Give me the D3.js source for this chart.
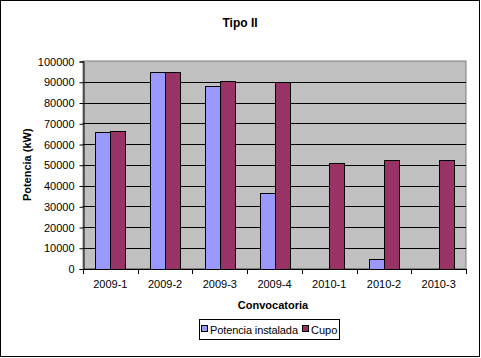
<!DOCTYPE html>
<html><head><meta charset="utf-8">
<script src="https://cdn.jsdelivr.net/npm/d3@7"></script>
<style>body{margin:0;background:#fff}svg{display:block;font-family:Arial,"Liberation Sans",sans-serif}</style>
</head><body>
<svg id="c" width="481" height="358"></svg>
<script>
const categories = ["2009-1","2009-2","2009-3","2009-4","2010-1","2010-2","2010-3"];
const potenciaInstalada = [65700, 94600, 87800, 36600, 0, 4500, 0];
const cupo = [66200, 94600, 90200, 89800, 50700, 52200, 52200];
const seriesNames = ["Potencia instalada", "Cupo"];
const yTicks = [0,10000,20000,30000,40000,50000,60000,70000,80000,90000,100000];

const colors = ["#9999FF", "#993366"];
const svg = d3.select("#c");
const L = 83, R = 466, T = 61, B = 268.5;

svg.append("rect").attr("x",0.5).attr("y",0.5).attr("width",479).attr("height",356)
  .attr("fill","#fff").attr("stroke","#000");

const x = d3.scaleBand().domain(categories).range([L,R]);
const y = d3.scaleLinear().domain([0,100000]).range([B,T]);

svg.append("rect").attr("x",L).attr("y",T).attr("width",R-L).attr("height",B-T)
  .attr("fill","#C0C0C0").attr("stroke","#808080");

svg.append("g").selectAll("line").data(yTicks.slice(1,-1)).join("line")
  .attr("x1",L).attr("x2",R).attr("y1",d=>Math.round(y(d))+0.5).attr("y2",d=>Math.round(y(d))+0.5)
  .attr("stroke","#000");

const bw = 15, gap = (x.bandwidth() - 2*bw)/2;
const g = svg.append("g");
categories.forEach((c,i)=>{
  [potenciaInstalada[i], cupo[i]].forEach((v,j)=>{
    if (v<=0) return;
    const x0 = Math.round(x(c)+gap+j*bw)+0.5;
    g.append("rect").attr("x",x0).attr("y",Math.round(y(v))+0.5)
      .attr("width",bw).attr("height",Math.round(B)-Math.round(y(v)))
      .attr("fill",colors[j]).attr("stroke","#000");
  });
});

const yAxis = d3.axisLeft(y).tickValues(yTicks).tickSize(4).tickPadding(5).tickFormat(d3.format("d"));
const ya = svg.append("g").attr("transform",`translate(${L+0.5},0.5)`).call(yAxis);
const xAxis = d3.axisBottom(x).tickSize(0).tickPadding(11);
const xa = svg.append("g").attr("transform",`translate(0,${Math.round(B)+0.5})`).call(xAxis);
[ya,xa].forEach(a=>{a.selectAll("path,line").attr("stroke","#000");a.selectAll("text").attr("font-size",11).attr("font-family","Arial,'Liberation Sans',sans-serif").attr("fill","#000");});
xa.select(".domain").attr("d",`M${L},0H${R}`);
svg.append("g").selectAll("line").data(d3.range(categories.length+1)).join("line")
  .attr("x1",i=>Math.round(L+i*x.step())+0.5).attr("x2",i=>Math.round(L+i*x.step())+0.5)
  .attr("y1",Math.round(B)).attr("y2",Math.round(B)+5).attr("stroke","#000");

svg.append("text").attr("x",240).attr("y",27).attr("text-anchor","middle")
  .attr("font-size",12).attr("font-weight","bold").text("Tipo II");
svg.append("text").attr("x",273).attr("y",309).attr("text-anchor","middle")
  .attr("font-size",11).attr("font-weight","bold").text("Convocatoria");
svg.append("text").attr("transform",`translate(31,${(T+B)/2}) rotate(-90)`).attr("text-anchor","middle")
  .attr("font-size",11).attr("font-weight","bold").text("Potencia (kW)");

const lg = svg.append("g");
lg.append("rect").attr("x",199.5).attr("y",319.5).attr("width",140).attr("height",20)
  .attr("fill","#fff").attr("stroke","#000");
const items = [{x:201, name:seriesNames[0]},{x:302, name:seriesNames[1]}];
items.forEach((it,j)=>{
  lg.append("rect").attr("x",it.x+0.5).attr("y",325.5).attr("width",6).attr("height",6)
    .attr("fill",colors[j]).attr("stroke","#000");
  const t = lg.append("text").attr("x",it.x+9).attr("y",333.5).attr("font-size",11).text(it.name);
  if (j===0) t.attr("textLength",88);
});
</script>
</body></html>
